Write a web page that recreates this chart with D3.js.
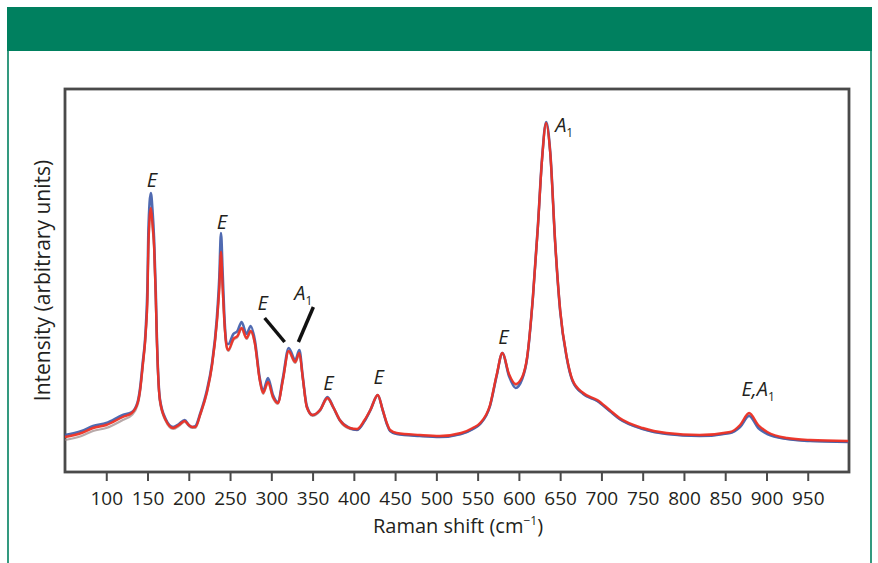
<!DOCTYPE html>
<html>
<head>
<meta charset="utf-8">
<script src="https://cdn.jsdelivr.net/npm/d3@7"></script>
<style>
  html, body { margin: 0; padding: 0; background: #fff; }
  svg { display: block; font-family: "Open Sans", "Liberation Sans", sans-serif; }
</style>
</head>
<body>
<svg id="chart"></svg>
<script>
// Raman shift (cm-1) sample points
const shift = [50, 70, 84, 100, 120, 131, 138, 141, 144, 148, 150, 151, 154, 156, 158, 160, 161, 165, 172, 181,
  188, 195, 200, 204, 208, 214, 222, 228, 234, 237, 239, 241, 243, 246, 248, 254, 259, 264, 270, 275,
  280, 286, 290, 296, 302, 308, 314, 321, 329, 334, 338, 343, 350, 359, 368, 375, 383, 395, 404, 413,
  420, 429, 435, 440, 444, 452, 480, 504, 530, 544, 553, 565, 573, 580, 588, 596, 604, 610, 617, 623,
  628, 633, 638, 644, 650, 658, 665, 678, 695, 710, 722, 750, 779, 819, 856, 868, 879, 890, 901, 925,
  953, 999];

// intensity (arbitrary units) for the overlaid spectra
const redTrace = [35, 39, 44, 47, 55, 59, 69, 82, 105, 142, 178, 225, 264, 248, 225, 175, 142, 72, 52, 44,
  47, 51, 47, 45, 45, 58, 80, 106, 150, 185, 220, 185, 152, 125, 122, 133, 136, 144, 134, 141,
  129, 92, 79, 90, 75, 69, 92, 121, 110, 119, 95, 65, 57, 62, 74, 65, 52, 44, 43, 52,
  62, 77, 62, 49, 42, 39, 37, 36, 39, 44, 49, 67, 97, 119, 98, 88, 95, 115, 175, 245,
  312, 349, 319, 229, 162, 115, 92, 79, 72, 62, 54, 44, 39, 37, 40, 47, 59, 47, 40, 34,
  32, 31];

const blueTrace = [37, 41, 46, 49, 57, 60, 70, 84, 108, 146, 190, 240, 279, 262, 232, 180, 145, 73, 53, 45,
  48, 52, 47, 45, 46, 59, 82, 108, 154, 195, 239, 200, 158, 128, 128, 138, 141, 150, 138, 146,
  132, 94, 81, 94, 77, 70, 94, 124, 112, 122, 96, 66, 57, 62, 75, 65, 52, 44, 42, 51,
  62, 77, 62, 48, 41, 38, 36, 35, 38, 43, 48, 66, 96, 119, 96, 84, 93, 114, 175, 246,
  313, 350, 320, 229, 161, 114, 91, 78, 71, 61, 53, 43, 38, 36, 39, 45, 56, 44, 38, 33,
  31, 30];

const grayTrace = [32, 36, 41, 44, 52, 57, 67, 80, 103, 140, 176, 222, 260, 245, 222, 172, 140, 70, 51, 43,
  46, 50, 46, 44, 44, 57, 79, 105, 148, 183, 218, 183, 150, 124, 121, 132, 135, 143, 133, 140,
  128, 91, 78, 89, 74, 68, 91, 120, 109, 118, 94, 64, 56, 61, 73, 64, 51, 43, 42, 51,
  61, 76, 61, 48, 41, 38, 36, 35, 38, 43, 48, 66, 96, 118, 97, 87, 94, 114, 174, 244,
  311, 348, 318, 228, 161, 114, 91, 78, 71, 61, 53, 43, 38, 36, 39, 46, 58, 46, 39, 33,
  31, 30];

const xTicks = [100, 150, 200, 250, 300, 350, 400, 450, 500, 550, 600, 650, 700, 750, 800, 850, 900, 950];

// band assignments
const bandShift = [154, 239, 368, 429, 580, 633, 879];
const bandLabel = ["E", "E", "E", "E", "E", "A", "E,A"];
const bandSub = ["", "", "", "", "", "1", "1"];

const W = 878, H = 563;
const margin = { left: 65, top: 89, right: 849, bottom: 472 };

const svg = d3.select("#chart").attr("width", W).attr("height", H);

// green header band and side rules
svg.append("rect").attr("x", 7).attr("y", 7).attr("width", 865).attr("height", 44).attr("fill", "#00805f");
svg.append("line").attr("x1", 8).attr("x2", 8).attr("y1", 50).attr("y2", H)
  .attr("stroke", "#00805f").attr("stroke-width", 1.6);
svg.append("line").attr("x1", 871).attr("x2", 871).attr("y1", 50).attr("y2", H)
  .attr("stroke", "#00805f").attr("stroke-width", 1.6);

const x = d3.scaleLinear().domain([50, 1000]).range([margin.left, margin.right]);
const y = d3.scaleLinear().domain([0, 383]).range([margin.bottom, margin.top]);

// frame
svg.append("rect")
  .attr("x", margin.left).attr("y", margin.top)
  .attr("width", margin.right - margin.left).attr("height", margin.bottom - margin.top)
  .attr("fill", "none").attr("stroke", "#4a4a4a").attr("stroke-width", 2.8);

// x axis
const xAxis = svg.append("g")
  .attr("transform", `translate(0,${margin.bottom})`)
  .call(d3.axisBottom(x).tickValues(xTicks).tickSize(9).tickPadding(10.5).tickFormat(d3.format("d")));
xAxis.select(".domain").remove();
xAxis.selectAll(".tick line").attr("stroke", "#4a4a4a").attr("stroke-width", 2);
xAxis.selectAll(".tick text").attr("fill", "#231f20").attr("font-size", 19)
  .attr("font-family", "'Open Sans', sans-serif");

svg.append("text")
  .attr("x", (margin.left + margin.right) / 2 + 1).attr("y", 533)
  .attr("text-anchor", "middle").attr("font-size", 20).attr("fill", "#231f20")
  .text("Raman shift (cm")
  .append("tspan").text("\u22121").attr("font-size", 12).attr("dy", -8)
  .select(function () { return this.parentNode; })
  .append("tspan").text(")").attr("dy", 8);

svg.append("text")
  .attr("transform", `translate(50,${(margin.top + margin.bottom) / 2}) rotate(-90)`)
  .attr("text-anchor", "middle").attr("font-size", 21).attr("fill", "#231f20")
  .text("Intensity (arbitrary units)");

// spectra
const line = d3.line().x(d => x(d[0])).y(d => y(d[1])).curve(d3.curveMonotoneX);
const traces = [
  { vals: grayTrace, color: "#9a8585", width: 2.2, op: 0.7 },
  { vals: blueTrace, color: "#3d5aa8", width: 2.6, op: 0.9 },
  { vals: redTrace, color: "#ee3124", width: 2.4, op: 0.95 }
];
traces.forEach(t => {
  svg.append("path")
    .datum(shift.map((s, i) => [s, t.vals[i]]))
    .attr("fill", "none")
    .attr("stroke", t.color)
    .attr("stroke-width", t.width)
    .attr("stroke-opacity", t.op)
    .attr("stroke-linejoin", "round")
    .attr("d", line);
});

// band labels
const labelPos = [
  { dx: 1, dy: -21, anchor: "middle" },
  { dx: 1, dy: -23, anchor: "middle" },
  { dx: 1, dy: -8, anchor: "middle" },
  { dx: 1, dy: -11, anchor: "middle" },
  { dx: 1, dy: -9, anchor: "middle" },
  { dx: 9, dy: 9, anchor: "start" },
  { dx: 9, dy: -17, anchor: "middle" }
];
bandShift.forEach((s, i) => {
  const v = redTrace[shift.indexOf(s)];
  const t = svg.append("text")
    .attr("x", x(s) + labelPos[i].dx)
    .attr("y", y(v) + labelPos[i].dy)
    .attr("text-anchor", labelPos[i].anchor)
    .attr("font-size", 20).attr("fill", "#231f20");
  t.append("tspan").attr("font-style", "italic").text(bandLabel[i]);
  if (bandSub[i]) t.append("tspan").attr("font-size", 12).attr("dy", 5).text(bandSub[i]);
});

// the close pair near 321/334 cm-1 with leader lines
const pairShift = [321, 334];
const pairText = [["E", ""], ["A", "1"]];
const pairText0 = svg.append("text").attr("x", x(pairShift[0]) - 26).attr("y", 310)
  .attr("text-anchor", "middle").attr("font-size", 20).attr("fill", "#231f20");
pairText0.append("tspan").attr("font-style", "italic").text(pairText[0][0]);
const pairText1 = svg.append("text").attr("x", x(pairShift[1]) + 4).attr("y", 300)
  .attr("text-anchor", "middle").attr("font-size", 20).attr("fill", "#231f20");
pairText1.append("tspan").attr("font-style", "italic").text(pairText[1][0]);
pairText1.append("tspan").attr("font-size", 12).attr("dy", 5).text(pairText[1][1]);

svg.append("line")
  .attr("x1", x(pairShift[0]) - 24).attr("y1", y(redTrace[shift.indexOf(321)]) - 33)
  .attr("x2", x(pairShift[0]) - 4).attr("y2", y(redTrace[shift.indexOf(321)]) - 9)
  .attr("stroke", "#111").attr("stroke-width", 3.5);
svg.append("line")
  .attr("x1", x(pairShift[1]) + 14).attr("y1", y(redTrace[shift.indexOf(334)]) - 46)
  .attr("x2", x(pairShift[1]) - 1).attr("y2", y(redTrace[shift.indexOf(334)]) - 11)
  .attr("stroke", "#111").attr("stroke-width", 3.5);
</script>
</body>
</html>
